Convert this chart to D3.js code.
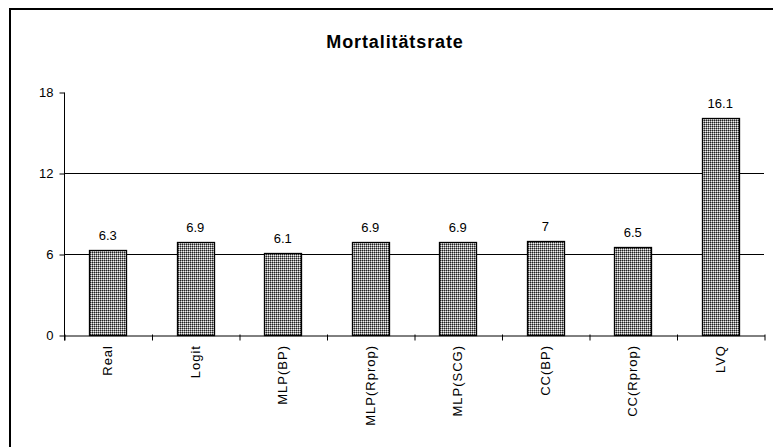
<!DOCTYPE html>
<html>
<head>
<meta charset="utf-8">
<script src="https://cdn.jsdelivr.net/npm/d3@7/dist/d3.min.js"></script>
<style>
  html, body { margin: 0; padding: 0; background: #fff; }
  svg { display: block; }
  text { font-family: Arial, "Liberation Sans", sans-serif; fill: #000; }
</style>
</head>
<body>
<svg id="chart" width="773" height="447"></svg>
<script>
// Mortality rate per classification method
const categories = ["Real", "Logit", "MLP(BP)", "MLP(Rprop)", "MLP(SCG)", "CC(BP)", "CC(Rprop)", "LVQ"];
const values = [6.3, 6.9, 6.1, 6.9, 6.9, 7, 6.5, 16.1];
const yTicks = [0, 6, 12, 18];
const gridValues = [6, 12];
const title = "Mortalitätsrate";

const svg = d3.select("#chart");
const W = 773, H = 447;
const plotLeft = 64, plotRight = 764, plotTop = 92, plotBottom = 335;

// Outer frame (open to the right and bottom edges)
svg.append("rect")
  .attr("x", 10).attr("y", 9)
  .attr("width", W + 20).attr("height", H + 20)
  .attr("fill", "#fff").attr("stroke", "#000").attr("stroke-width", 2);

// Dithered grey fill for the bars
const defs = svg.append("defs");
const pat = defs.append("pattern")
  .attr("id", "dither").attr("patternUnits", "userSpaceOnUse")
  .attr("width", 2).attr("height", 2);
pat.append("rect").attr("width", 2).attr("height", 2).attr("fill", "#8c8c8c");
pat.append("rect").attr("x", 0).attr("y", 0).attr("width", 1).attr("height", 1).attr("fill", "#222");
pat.append("rect").attr("x", 1).attr("y", 1).attr("width", 1).attr("height", 1).attr("fill", "#f0f0f0");

const x = d3.scaleBand().domain(categories).range([plotLeft, plotRight])
  .paddingInner(0.577).paddingOuter(0.2885);
const xIdx = d3.scaleLinear().domain([0, categories.length]).range([plotLeft, plotRight]);
const y = d3.scaleLinear().domain([0, 18]).range([plotBottom, plotTop]);

// Title
svg.append("text")
  .attr("x", 395).attr("y", 48)
  .attr("text-anchor", "middle")
  .style("font-size", "18px").style("font-weight", "bold").style("letter-spacing", "0.9px")
  .text(title);

// Horizontal grid lines
svg.append("g").selectAll("line").data(gridValues).join("line")
  .attr("x1", plotLeft).attr("x2", plotRight)
  .attr("y1", d => Math.round(y(d)) + 0.5).attr("y2", d => Math.round(y(d)) + 0.5)
  .attr("stroke", "#000").attr("stroke-width", 1);

// Y axis
const yAxis = svg.append("g")
  .attr("transform", `translate(${plotLeft + 0.5},0.5)`)
  .call(d3.axisLeft(y).tickValues(yTicks).tickSize(5).tickPadding(6).tickFormat(d3.format("d")));
yAxis.select(".domain").attr("stroke", "#000").attr("d", `M0,${y(18)}V${y(0) + 5}`);
yAxis.selectAll(".tick line").attr("stroke", "#000");
yAxis.selectAll(".tick text")
  .style("font-family", "Arial, 'Liberation Sans', sans-serif")
  .style("font-size", "13px").attr("fill", "#000");

// X axis with ticks at category boundaries
const xAxis = svg.append("g")
  .attr("transform", `translate(0.5,${plotBottom + 0.5})`)
  .call(d3.axisBottom(xIdx).tickValues(d3.range(categories.length + 1))
    .tickSizeInner(5).tickSizeOuter(0).tickFormat(""));
xAxis.select(".domain").attr("stroke", "#000");
xAxis.selectAll(".tick line").attr("stroke", "#000").attr("y1", -1);

// Bars
svg.append("g").selectAll("rect").data(values).join("rect")
  .attr("x", (d, i) => Math.round(x(categories[i])) + 0.5)
  .attr("y", d => Math.round(y(d)) + 0.5)
  .attr("width", Math.round(x.bandwidth()))
  .attr("height", d => Math.round(y(0)) - Math.round(y(d)))
  .attr("fill", "url(#dither)")
  .attr("stroke", "#000").attr("stroke-width", 1.3);

// Value labels
svg.append("g").selectAll("text").data(values).join("text")
  .attr("x", (d, i) => x(categories[i]) + x.bandwidth() / 2)
  .attr("y", d => y(d) - 10)
  .attr("text-anchor", "middle")
  .style("font-size", "13px")
  .text(d => d);

// Category labels, rotated
svg.append("g").selectAll("text").data(categories).join("text")
  .attr("transform", d => `translate(${x(d) + x.bandwidth() / 2},${plotBottom + 10}) rotate(-90)`)
  .attr("text-anchor", "end")
  .attr("dy", "0.35em")
  .style("font-size", "13px").style("letter-spacing", "1px")
  .text(d => d);
</script>
</body>
</html>
